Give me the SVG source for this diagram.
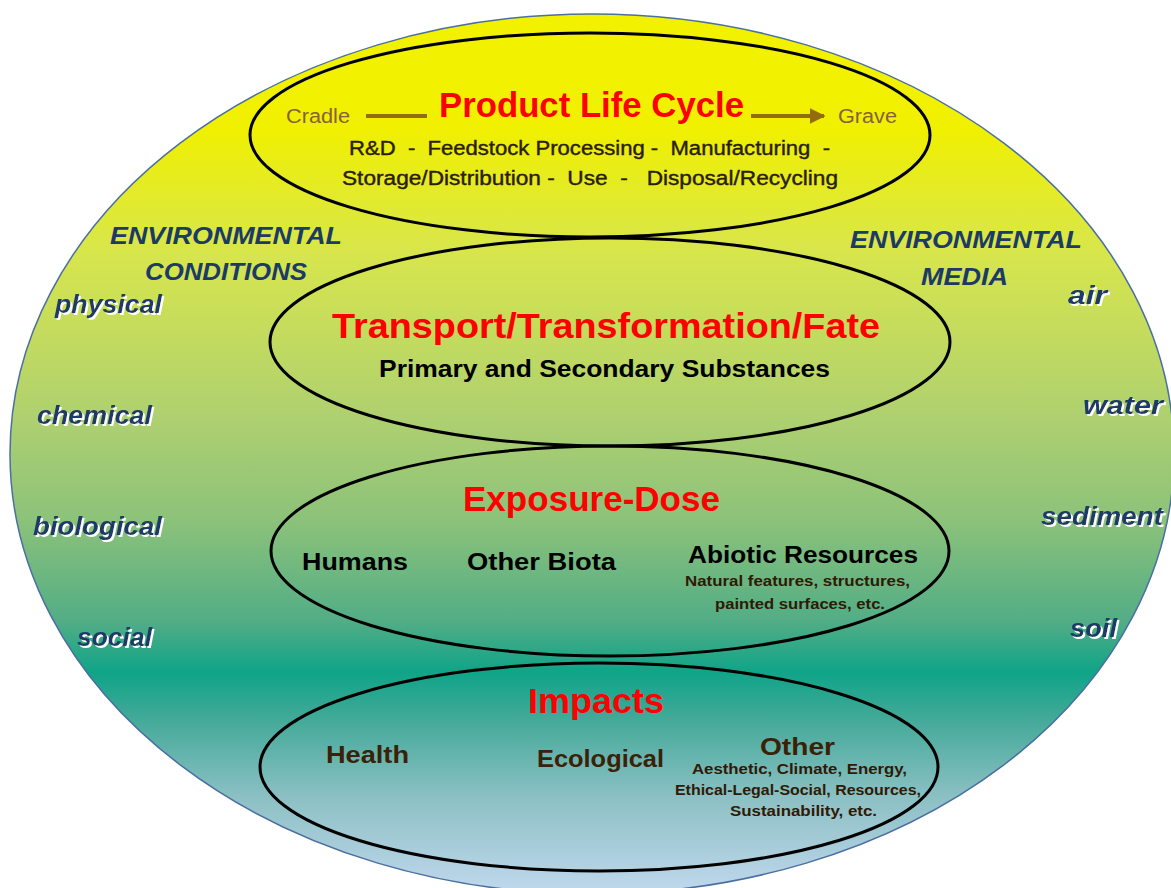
<svg xmlns="http://www.w3.org/2000/svg" width="1171" height="888" viewBox="0 0 1171 888">
<defs>
<linearGradient id="bg" gradientUnits="userSpaceOnUse" x1="0" y1="14" x2="0" y2="894">
<stop offset="0" stop-color="#f2f200"/>
<stop offset="0.13" stop-color="#f0f000"/>
<stop offset="0.27" stop-color="#d8e64c"/>
<stop offset="0.46" stop-color="#aed070"/>
<stop offset="0.575" stop-color="#8cc27a"/>
<stop offset="0.69" stop-color="#52ad86"/>
<stop offset="0.748" stop-color="#0fa488"/>
<stop offset="0.80" stop-color="#42a998"/>
<stop offset="0.89" stop-color="#8cc0c4"/>
<stop offset="0.99" stop-color="#bcd6ea"/>
</linearGradient>
<filter id="sh" x="-10%" y="-30%" width="130%" height="170%">
<feDropShadow dx="2" dy="2" stdDeviation="0" flood-color="#ffffff" flood-opacity="1"/>
</filter>
<marker id="ah" viewBox="0 0 10 10" refX="9" refY="5" markerWidth="4" markerHeight="4" orient="auto" markerUnits="strokeWidth">
<path d="M0,0 L10,5 L0,10 z" fill="#946c10"/>
</marker>
<style>
.ring{fill:none;stroke:#000;stroke-width:3}
.title{font-family:"Liberation Sans",Arial,sans-serif;font-weight:bold;fill:#ff0000;font-size:35px}
.sub{font-family:"Liberation Sans",Arial,sans-serif;font-weight:bold;fill:#000;font-size:23px}
.small{font-family:"Liberation Sans",Arial,sans-serif;font-weight:bold;fill:#2f1a05;font-size:14px}
.env{font-family:"Liberation Sans",Arial,sans-serif;font-weight:bold;font-style:italic;fill:#1b3a66;font-size:23px}
.lab{font-family:"Liberation Sans",Arial,sans-serif;font-weight:bold;font-style:italic;fill:#1b3a66;font-size:25px;filter:url(#sh)}
.cg{font-family:"Liberation Sans",Arial,sans-serif;fill:#87613a;font-size:20px}
.pl{font-family:"Liberation Sans",Arial,sans-serif;fill:#2b1d00;font-size:20px;stroke:#2b1d00;stroke-width:0.4}
.imp{font-family:"Liberation Sans",Arial,sans-serif;font-weight:bold;fill:#3a2108;font-size:24px}
</style>
</defs>
<g id="background">
<ellipse cx="592" cy="454" rx="582" ry="440" fill="url(#bg)" stroke="#4a6fa0" stroke-width="1.5"/>
</g>
<g id="environmental-conditions">
<text class="env" x="110" y="244" textLength="232" lengthAdjust="spacingAndGlyphs">ENVIRONMENTAL</text>
<text class="env" x="145" y="280" textLength="162" lengthAdjust="spacingAndGlyphs">CONDITIONS</text>
<text class="lab" x="55" y="313" textLength="107" lengthAdjust="spacingAndGlyphs">physical</text>
<text class="lab" x="37" y="424" textLength="115" lengthAdjust="spacingAndGlyphs">chemical</text>
<text class="lab" x="33" y="535" textLength="129" lengthAdjust="spacingAndGlyphs">biological</text>
<text class="lab" x="77" y="646" textLength="75" lengthAdjust="spacingAndGlyphs">social</text>
</g>
<g id="environmental-media">
<text class="env" x="850" y="248" textLength="232" lengthAdjust="spacingAndGlyphs">ENVIRONMENTAL</text>
<text class="env" x="921" y="285" textLength="87" lengthAdjust="spacingAndGlyphs">MEDIA</text>
<text class="lab" x="1068" y="304" textLength="39" lengthAdjust="spacingAndGlyphs">air</text>
<text class="lab" x="1083" y="414" textLength="80" lengthAdjust="spacingAndGlyphs">water</text>
<text class="lab" x="1041" y="525" textLength="122" lengthAdjust="spacingAndGlyphs">sediment</text>
<text class="lab" x="1070" y="637" textLength="47" lengthAdjust="spacingAndGlyphs">soil</text>
</g>
<g id="product-life-cycle">
<ellipse class="ring" cx="590" cy="135" rx="340" ry="102"/>
<text class="cg" x="286" y="123" textLength="64" lengthAdjust="spacingAndGlyphs">Cradle</text>
<text class="title" x="439" y="117" textLength="305" lengthAdjust="spacingAndGlyphs">Product Life Cycle</text>
<text class="cg" x="838" y="123" textLength="59" lengthAdjust="spacingAndGlyphs">Grave</text>
<text class="pl" x="349" y="155" textLength="481" lengthAdjust="spacingAndGlyphs" xml:space="preserve">R&amp;D  -  Feedstock Processing -  Manufacturing  -</text>
<text class="pl" x="342" y="185" textLength="496" lengthAdjust="spacingAndGlyphs" xml:space="preserve">Storage/Distribution -  Use  -   Disposal/Recycling</text>
</g>
<g id="transport">
<ellipse class="ring" cx="610" cy="342" rx="340" ry="104"/>
<text class="title" x="332" y="338" textLength="548" lengthAdjust="spacingAndGlyphs">Transport/Transformation/Fate</text>
<text class="sub" x="379" y="377" textLength="451" lengthAdjust="spacingAndGlyphs">Primary and Secondary Substances</text>
</g>
<g id="exposure-dose">
<ellipse class="ring" cx="610" cy="551" rx="339" ry="105"/>
<text class="title" x="463" y="511" textLength="257" lengthAdjust="spacingAndGlyphs">Exposure-Dose</text>
<text class="sub" x="302" y="570" textLength="106" lengthAdjust="spacingAndGlyphs">Humans</text>
<text class="sub" x="467" y="570" textLength="149" lengthAdjust="spacingAndGlyphs">Other Biota</text>
<text class="sub" x="688" y="563" textLength="230" lengthAdjust="spacingAndGlyphs">Abiotic Resources</text>
<text class="small" x="685" y="586" textLength="225" lengthAdjust="spacingAndGlyphs">Natural features, structures,</text>
<text class="small" x="715" y="609" textLength="170" lengthAdjust="spacingAndGlyphs">painted surfaces, etc.</text>
</g>
<g id="impacts">
<ellipse class="ring" cx="599" cy="767" rx="339" ry="104"/>
<text class="title" x="528" y="713" textLength="136" lengthAdjust="spacingAndGlyphs">Impacts</text>
<text class="imp" x="326" y="763" textLength="83" lengthAdjust="spacingAndGlyphs">Health</text>
<text class="imp" x="537" y="767" textLength="127" lengthAdjust="spacingAndGlyphs">Ecological</text>
<text class="imp" x="760" y="755" textLength="75" lengthAdjust="spacingAndGlyphs">Other</text>
<text class="small" x="692" y="774" textLength="215" lengthAdjust="spacingAndGlyphs">Aesthetic, Climate, Energy,</text>
<text class="small" x="675" y="795" textLength="246" lengthAdjust="spacingAndGlyphs">Ethical-Legal-Social, Resources,</text>
<text class="small" x="730" y="816" textLength="147" lengthAdjust="spacingAndGlyphs">Sustainability, etc.</text>
</g>
<g id="connectors">
<line x1="366" y1="116" x2="427" y2="116" stroke="#946c10" stroke-width="4"/>
<line x1="751" y1="116" x2="824" y2="116" stroke="#946c10" stroke-width="4" marker-end="url(#ah)"/>
</g>
</svg>
